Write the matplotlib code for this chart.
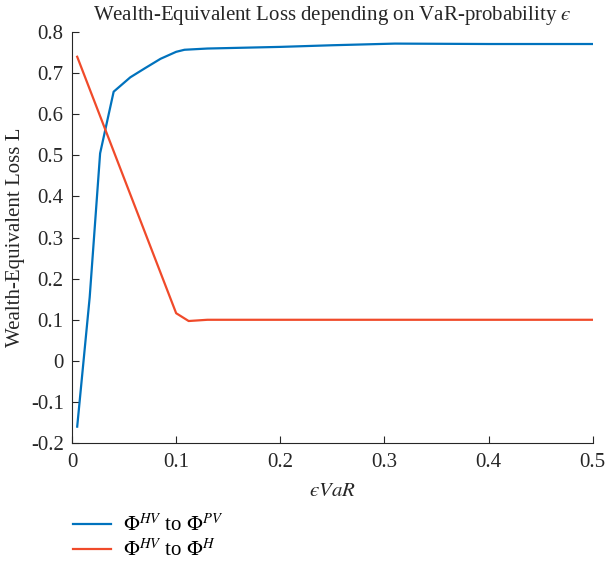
import matplotlib
matplotlib.use('Agg')
import matplotlib.pyplot as plt
from matplotlib.ticker import FormatStrFormatter
import numpy as np

# VaR-probability grid and losses
eps_pv = [0.005, 0.017, 0.027, 0.040, 0.056, 0.070, 0.085, 0.100, 0.108, 0.130,
          0.200, 0.250, 0.310, 0.400, 0.500]
loss_pv = [-0.160, 0.155, 0.505, 0.655, 0.690, 0.712, 0.735, 0.752, 0.757, 0.760,
           0.764, 0.768, 0.772, 0.771, 0.771]

eps_h = [0.005, 0.100, 0.112, 0.130, 0.200, 0.300, 0.400, 0.500]
loss_h = [0.740, 0.116, 0.097, 0.100, 0.100, 0.100, 0.100, 0.100]

plt.rcParams['font.family'] = ['Liberation Serif', 'DejaVu Serif']
plt.rcParams['mathtext.fontset'] = 'stix'
plt.rcParams['axes.unicode_minus'] = False

fig = plt.figure(figsize=(6.07, 5.63), dpi=100)
ax = fig.add_axes([0.1186, 0.213, 0.858, 0.730])

ax.plot(eps_pv, loss_pv, color='#0072BD', linewidth=1.6,
        label=r'$\Phi^{HV}$ to $\Phi^{PV}$')
ax.plot(eps_h, loss_h, color='#F04A2A', linewidth=1.6,
        label=r'$\Phi^{HV}$ to $\Phi^{H}$')

ax.set_xlim(0, 0.5)
ax.set_ylim(-0.2, 0.8)
ax.set_xticks(np.arange(0, 0.51, 0.1))
ax.set_yticks(np.arange(-0.2, 0.81, 0.1))
ax.xaxis.set_major_formatter(FormatStrFormatter('%g'))
ax.yaxis.set_major_formatter(FormatStrFormatter('%g'))
ax.tick_params(direction='in', length=5, width=0.8, labelsize=15, colors='#262626')
ax.tick_params(axis='x', pad=7)
ax.tick_params(axis='y', pad=6)
for s in ['top', 'right']:
    ax.spines[s].set_visible(False)
for s in ['left', 'bottom']:
    ax.spines[s].set_color('#262626')
    ax.spines[s].set_linewidth(0.8)

ax.set_title('Wealth-Equivalent Loss depending on VaR-probability $\u03f5$',
             fontsize=15, color='#262626', pad=9)
ax.set_ylabel('Wealth-Equivalent Loss L', fontsize=15, color='#262626', labelpad=4)
ax.set_xlabel('$\u03f5 VaR$', fontsize=15, color='#262626', labelpad=7)

fig.legend(loc='upper left', bbox_to_anchor=(0.09, 0.12), frameon=False,
           fontsize=15, handlelength=1.8, handletextpad=0.6, labelspacing=0.15)

fig.savefig('out.png', dpi=100)
